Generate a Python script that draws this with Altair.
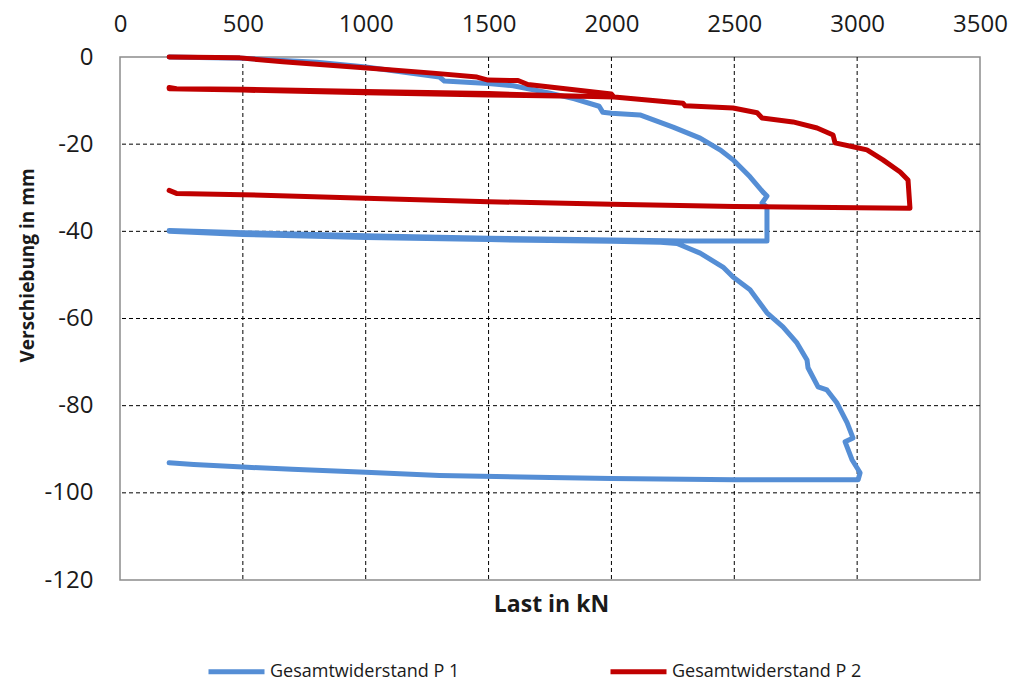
import altair as alt
import pandas as pd

# Load (kN) / settlement (mm) readings, pile P 1
p1_load = [200, 500, 800, 1000, 1300, 1320, 1500, 1600, 1750, 1850, 1950, 1965, 2000,
           2116, 2251, 2361, 2442, 2495, 2564, 2617, 2633, 2613, 2633, 2633,
           2300, 2000, 1500, 1000, 500, 200,
           200, 500, 1000, 1500, 2000, 2200, 2267, 2361, 2454, 2495, 2564, 2633,
           2698, 2755, 2796, 2800, 2841, 2877, 2918, 2959, 2983, 2951, 2979, 3012, 3004,
           2500, 2000, 1750, 1300, 1000, 700, 500, 300, 200]
p1_disp = [0.0, -0.3, -1.2, -2.3, -4.6, -5.5, -6.1, -6.6, -8.3, -9.6, -11.3, -12.7, -12.9,
           -13.3, -16.1, -18.6, -21.3, -23.6, -27.5, -31.0, -31.9, -33.5, -34.4, -42.2,
           -42.2, -42.0, -41.6, -41.0, -40.3, -39.8,
           -40.0, -40.7, -41.4, -41.9, -42.3, -42.5, -42.8, -45.0, -48.2, -50.5, -53.4, -58.7,
           -61.9, -65.6, -69.5, -71.3, -75.7, -76.4, -79.4, -83.9, -87.4, -88.3, -92.4, -95.4, -97.0,
           -97.0, -96.7, -96.5, -96.0, -95.3, -94.6, -94.1, -93.5, -93.1]

# Load (kN) / settlement (mm) readings, pile P 2
p2_load = [200, 488, 663, 1005, 1274, 1453, 1498, 1620, 1660, 2000, 2010,
           1800, 1500, 1000, 500, 230, 200,
           200, 500, 1000, 1500, 2000, 2291, 2300, 2495, 2593, 2613, 2739, 2837, 2902, 2910,
           2983, 3040, 3105, 3175, 3207, 3215,
           3000, 2500, 2000, 1500, 1000, 500, 230, 200]
p2_disp = [0.0, -0.2, -1.1, -2.5, -3.7, -4.6, -5.3, -5.4, -6.3, -8.5, -9.2,
           -8.9, -8.4, -7.9, -7.4, -7.3, -7.0,
           -7.3, -7.6, -8.2, -8.7, -9.1, -10.6, -11.2, -11.7, -12.8, -14.0, -14.9, -16.3, -17.9, -19.7,
           -20.6, -21.3, -23.6, -26.4, -28.2, -34.7,
           -34.6, -34.3, -33.8, -33.2, -32.4, -31.6, -31.3, -30.6]

series_names = ["Gesamtwiderstand P 1", "Gesamtwiderstand P 2"]
series_colors = ["#558ED5", "#C00000"]

x_ticks = [0, 500, 1000, 1500, 2000, 2500, 3000, 3500]
y_ticks = [0, -20, -40, -60, -80, -100, -120]
x_grid = [500, 1000, 1500, 2000, 2500, 3000]
y_grid = [-20, -40, -60, -80, -100]

FONT = "Open Sans"
INK = "#1a1a1a"

rows = []
for name, xs, ys in [(series_names[0], p1_load, p1_disp), (series_names[1], p2_load, p2_disp)]:
    for i, (a, b) in enumerate(zip(xs, ys)):
        rows.append({"Serie": name, "Last": a, "Verschiebung": b, "i": i})
df = pd.DataFrame(rows)

x_scale = alt.Scale(domain=[0, 3500], nice=False, zero=False)
y_scale = alt.Scale(domain=[-120, 0], nice=False, zero=False)

# dashed vertical grid; this layer also carries the bottom axis with the load title
vgrid = alt.Chart(pd.DataFrame({"g": x_grid})).mark_rule(
    color="black", strokeDash=[4, 3], strokeWidth=1
).encode(x=alt.X("g:Q", scale=x_scale,
                 axis=alt.Axis(orient="bottom", title="Last in kN", labels=False, ticks=False,
                               domain=False, grid=False, titleFont=FONT, titleFontSize=23,
                               titleFontWeight="bold", titleColor=INK, titleBaseline="alphabetic",
                               titleY=31, titleX=431, titleAlign="center")))

hgrid = alt.Chart(pd.DataFrame({"g": y_grid})).mark_rule(
    color="black", strokeDash=[4, 3], strokeWidth=1
).encode(y=alt.Y("g:Q", scale=y_scale))

lines = alt.Chart(df).mark_line(strokeWidth=5, strokeJoin="round", strokeCap="round").encode(
    x=alt.X("Last:Q", scale=x_scale,
            axis=alt.Axis(orient="top", values=x_ticks, title=None, grid=False, ticks=False,
                          domain=False, labelPadding=26, labelBaseline="alphabetic",
                          labelFontSize=24, labelFont=FONT, labelColor=INK, labelFlush=False,
                          labelExpr="'' + datum.value")),
    y=alt.Y("Verschiebung:Q", scale=y_scale,
            axis=alt.Axis(values=y_ticks, title="Verschiebung in mm", grid=False, ticks=False,
                          domain=False, labelPadding=27, labelFontSize=24, labelFont=FONT,
                          labelColor=INK, labelFlush=False, labelExpr="'' + datum.value",
                          titleFont=FONT, titleFontSize=19, titleFontWeight="bold",
                          titleColor=INK, titleAngle=270, titleX=-93, titleY=208,
                          titleAlign="center", titleBaseline="middle")),
    color=alt.Color("Serie:N", scale=alt.Scale(domain=series_names, range=series_colors),
                    legend=alt.Legend(title=None, orient="none", legendX=86, legendY=584,
                                      direction="horizontal", columns=2, columnPadding=140,
                                      symbolType="stroke", symbolStrokeWidth=5,
                                      symbolSize=3136, labelFont=FONT, labelFontSize=18,
                                      labelLimit=0, labelColor=INK, labelOffset=3)),
    detail="Serie:N",
    order="i:Q",
)

chart = alt.layer(vgrid, hgrid, lines).resolve_axis(x="independent").properties(
    width=860,
    height=523,
    autosize=alt.AutoSizeParams(type="none"),
    padding={"left": 120, "top": 57, "right": 31, "bottom": 100},
).configure_view(stroke="#8C8C8C", strokeWidth=1.5)

chart.save("out.html", embed_options={"renderer": "svg", "actions": False})
